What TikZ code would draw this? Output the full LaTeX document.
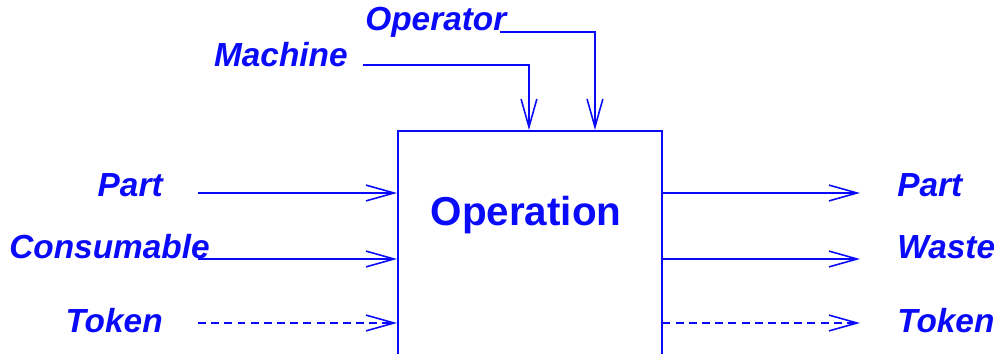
\documentclass[tikz,border=0pt]{standalone}
\usepackage{fontspec}
\newfontfamily\helv{Liberation Sans}
\usepackage{tikz}
\usetikzlibrary{positioning,arrows.meta}
\definecolor{idefblue}{RGB}{10,10,250}
\tikzstyle{flowlabel}=[text=idefblue, font=\helv\bfseries\itshape\fontsize{19}{21}\selectfont, inner sep=0pt]
\tikzstyle{myarrow}=[-{Straight Barb[length=16pt,width=9pt]}, draw=idefblue, line width=0.9pt]
\tikzstyle{tokenarrow}=[myarrow, dash pattern=on 4.5pt off 3pt]

\begin{document}
\begin{tikzpicture}[x=0.02cm, y=-0.02cm]
	\useasboundingbox (0,0) rectangle (994,354);

	\node (Operation) [draw=idefblue, line width=0.9pt, minimum width=5.28cm, minimum height=4.8cm, anchor=north west] at (397,130) {};
	\node (OperationText) [text=idefblue, font=\helv\bfseries\fontsize{23}{26}\selectfont] at (526,215) {Operation};

	\node (PartIn) [flowlabel, anchor=east] at (163,185) {Part};
	\node (ConsumableIn) [flowlabel, anchor=east] at (210,247) {Consumable};
	\node (TokenIn) [flowlabel, anchor=east] at (163,321) {Token};

	\node (PartOut) [flowlabel, anchor=west] at (897,185) {Part};
	\node (WasteOut) [flowlabel, anchor=west] at (897,247) {Waste};
	\node (TokenOut) [flowlabel, anchor=west] at (897,321) {Token};

	\node (Machine) [flowlabel, anchor=east] at (348,55) {Machine};
	\node (Operator) [flowlabel, anchor=west] at (365,22) {Operator};

	\coordinate (PartInEnd) at (198,193);
	\coordinate (ConsumableInEnd) at (198,259);
	\coordinate (TokenInEnd) at (198,323);
	\coordinate (PartOutEnd) at (860,193);
	\coordinate (WasteOutEnd) at (860,259);
	\coordinate (TokenOutEnd) at (860,323);
	\coordinate (MachineEnd) at (363,65);
	\coordinate (OperatorEnd) at (500,32);

\draw[myarrow] (PartInEnd) -- (Operation.west |- PartInEnd);
\draw[myarrow] (ConsumableInEnd) -- (Operation.west |- ConsumableInEnd);
\draw[tokenarrow] (TokenInEnd) -- (Operation.west |- TokenInEnd);

\draw[myarrow] (Operation.east |- PartOutEnd) -- (PartOutEnd);
\draw[myarrow] (Operation.east |- WasteOutEnd) -- (WasteOutEnd);
\draw[tokenarrow] (Operation.east |- TokenOutEnd) -- (TokenOutEnd);

\draw[myarrow] (MachineEnd) -| ([xshift=2.64cm]Operation.north west);
\draw[myarrow] (OperatorEnd) -| ([xshift=3.96cm]Operation.north west);

\end{tikzpicture}
\end{document}
